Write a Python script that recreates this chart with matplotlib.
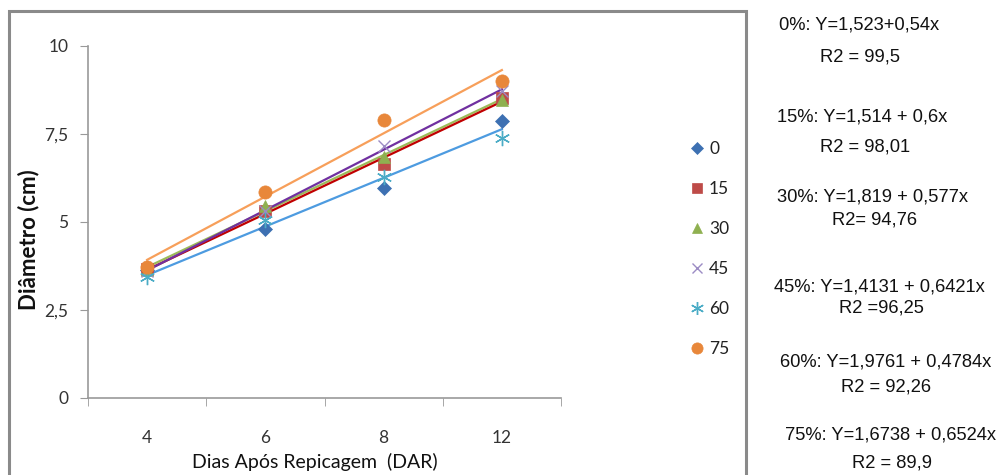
import numpy as np
import matplotlib
matplotlib.use('Agg')
import matplotlib.pyplot as plt
from matplotlib.patches import Rectangle

# data
days = ['4', '6', '8', '12']
series_names = ['0', '15', '30', '45', '60', '75']
d0 = [3.63, 4.79, 5.95, 7.85]
d15 = [3.65, 5.29, 6.64, 8.51]
d30 = [3.62, 5.46, 6.85, 8.46]
d45 = [3.60, 5.30, 7.15, 8.70]
d60 = [3.42, 5.05, 6.28, 7.37]
d75 = [3.71, 5.83, 7.90, 9.01]
yticks = [0, 2.5, 5, 7.5, 10]
ytick_labels = ['0', '2,5', '5', '7,5', '10']

equations = [
    ('0%: Y=1,523+0,54x', 'R2 = 99,5'),
    ('15%: Y=1,514 + 0,6x', 'R2 = 98,01'),
    ('30%: Y=1,819 + 0,577x', 'R2= 94,76'),
    ('45%: Y=1,4131 + 0,6421x', 'R2 =96,25'),
    ('60%: Y=1,9761 + 0,4784x', 'R2 = 92,26'),
    ('75%: Y=1,6738 + 0,6524x', 'R2 = 89,9'),
]

data = [d0, d15, d30, d45, d60, d75]
markers = ['D', 's', '^', 'x', (6, 2, 0), 'o']
mcolors = ['#3d70b2', '#be4b48', '#8fb050', '#9c8cc4', '#4bacc6', '#e8873a']
msizes = [7.5, 8.5, 9, 9, 11, 9.5]
# trendline colours per series index (60 has none drawn)
tcolors = {0: '#4d9be0', 1: '#c00000', 2: '#9bbb59', 3: '#7030a0', 5: '#f79f5a'}

fig = plt.figure(figsize=(10, 4.75), dpi=100)
fig.patches.append(Rectangle((9 / 1000, -0.1), 737 / 1000, 1.1 - 11 / 475,
                             transform=fig.transFigure, fill=False,
                             edgecolor='#8a8a8a', linewidth=2.2))

ax = fig.add_axes([0.088, 1 - 397.7 / 475, 0.473, (397.7 - 45.7) / 475])
x = np.arange(1, len(days) + 1)

# trendlines first
for i in [2, 1, 0, 3, 5]:
    k, b = np.polyfit(x, data[i], 1)
    ax.plot([1, 4], [k * 1 + b, k * 4 + b], color=tcolors[i], lw=1.6, zorder=3)

for i, name in enumerate(series_names):
    thin = markers[i] == 'x' or isinstance(markers[i], tuple)
    ax.plot(x, data[i], linestyle='none', marker=markers[i], color=mcolors[i],
            markersize=msizes[i], markeredgewidth=1.0 if thin else 0.5,
            markeredgecolor=mcolors[i], label=name, zorder=4)

ax.set_xlim(0.5, 4.5)
ax.set_ylim(0, 10)
ax.set_yticks(yticks)
ax.set_yticklabels(ytick_labels)
ax.set_xticks(x)
ax.set_xticklabels(days)
ax.set_xticks(np.arange(0.5, 5, 1), minor=True)
ax.tick_params(axis='x', which='major', length=0, pad=23, labelsize=12.5, labelcolor='#333333')
ax.tick_params(axis='x', which='minor', length=6, color='#999999', direction='out')
ax.tick_params(axis='y', length=6, color='#999999', pad=8, labelsize=12.5, labelcolor='#333333')
for lab in ax.get_xticklabels() + ax.get_yticklabels():
    lab.set_family('Lato')
for s in ['top', 'right']:
    ax.spines[s].set_visible(False)
for s in ['left', 'bottom']:
    ax.spines[s].set_color('#999999')
    ax.spines[s].set_linewidth(1.2)

fig.text(0.029, 1 - 240 / 475, 'Diâmetro (cm)', rotation=90, ha='center', va='center',
         fontsize=16, fontweight='bold', family='Lato', color='#111111')
fig.text(0.315, 1 - 462 / 475, 'Dias Após Repicagem  (DAR)', ha='center', va='center',
         fontsize=14, family='Lato', color='#111111')

leg = ax.legend(loc='upper left', bbox_to_anchor=(0.683, 1 - 134 / 475),
                bbox_transform=fig.transFigure, frameon=False, fontsize=12.5,
                handlelength=0.8, handletextpad=0.3, labelspacing=1.38,
                borderaxespad=0, markerscale=0.85)
for t in leg.get_texts():
    t.set_family('Lato')
    t.set_color('#222222')

# equations on the right
eq_y = [25, 57, 117, 147, 197, 220, 287, 308, 362, 387, 435, 463]
eq_x = [779, 820, 777, 820, 777, 832, 774, 839, 780, 841, 785, 852]
texts = [t for pair in equations for t in pair]
for t, px, py in zip(texts, eq_x, eq_y):
    fig.text(px / 1000, 1 - py / 475, t, ha='left', va='center', fontsize=13.2,
             family='Liberation Sans', color='#111111')

fig.savefig('out.png', dpi=100)
